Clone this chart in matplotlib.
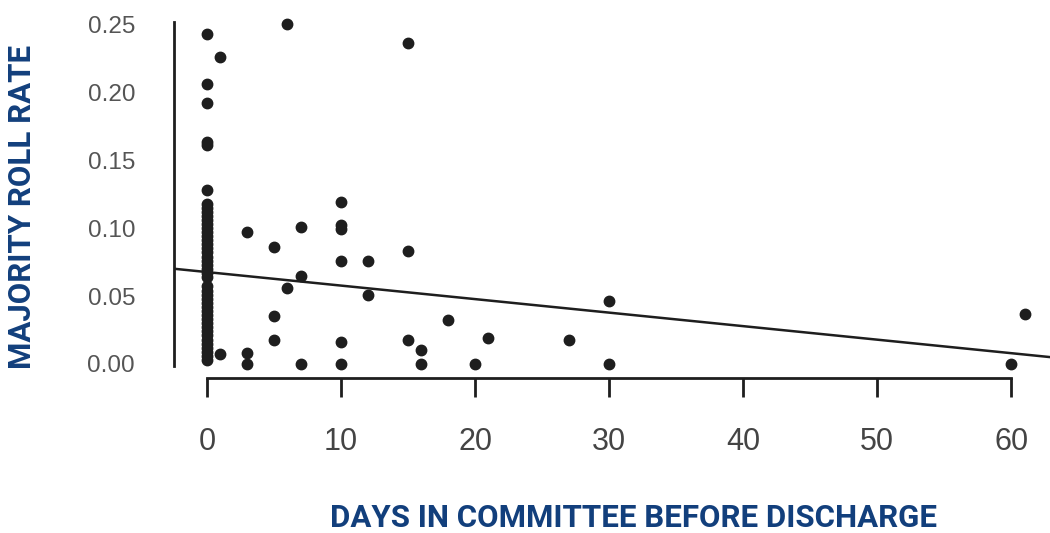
import matplotlib
matplotlib.use("Agg")
from matplotlib import pyplot as plt

# days in committee (x) and majority roll rate (y)
days = ([0] * 44 +
        [1, 1, 3, 3, 3, 5, 5, 5, 6, 6, 7, 7, 7,
         10, 10, 10, 10, 10, 10, 12, 12, 15, 15, 15, 16, 16,
         18, 20, 21, 27, 30, 30, 60, 61])
rates = ([0.243, 0.206, 0.192, 0.163, 0.161, 0.128, 0.118,
          0.115, 0.112, 0.109, 0.106, 0.103, 0.100, 0.097, 0.094, 0.091,
          0.088, 0.085, 0.082, 0.079, 0.076, 0.073, 0.070, 0.067, 0.064,
          0.057, 0.054, 0.051, 0.048, 0.045, 0.042, 0.039, 0.036, 0.033,
          0.030, 0.027, 0.024, 0.021, 0.018, 0.015, 0.012, 0.009, 0.006,
          0.003] +
         [0.226, 0.007, 0.097, 0.008, 0.0, 0.086, 0.035, 0.018, 0.056, 0.250,
          0.101, 0.065, 0.0,
          0.119, 0.102, 0.099, 0.076, 0.016, 0.0, 0.076, 0.051, 0.236, 0.083,
          0.018, 0.010, 0.0,
          0.032, 0.0, 0.019, 0.018, 0.046, 0.0, 0.0, 0.037])

# fitted line
fit_intercept = 0.0676
fit_slope = -0.000994

x_ticks = [0, 10, 20, 30, 40, 50, 60]
y_ticks = [0.00, 0.05, 0.10, 0.15, 0.20, 0.25]

blue = "#123f7c"

fig = plt.figure(figsize=(10.5, 5.33), dpi=100)
ax = fig.add_axes([174 / 1050, 1 - 378 / 533, 876 / 1050, 356 / 533])
ax.set_xlim(-2.46, 62.9)
ax.set_ylim(-0.0103, 0.2515)

ax.plot(days, rates, 'o', color='#1e1e1e', markersize=7.5, clip_on=False, zorder=3)
ax.axline((0, fit_intercept), slope=fit_slope, color='#1e1e1e', lw=1.8)

for s in ['top', 'right']:
    ax.spines[s].set_visible(False)
ax.spines['left'].set_bounds(-0.0015, 0.2515)
ax.spines['bottom'].set_bounds(0, 60)
ax.spines['left'].set_linewidth(2)
ax.spines['bottom'].set_linewidth(2)
ax.spines['left'].set_color('#1e1e1e')
ax.spines['bottom'].set_color('#1e1e1e')

ax.set_xticks(x_ticks)
ax.set_xticklabels([str(t) for t in x_ticks], fontsize=22, color='#444444',
                   family='Liberation Sans')
ax.set_yticks(y_ticks)
ax.set_yticklabels(["%.2f" % t for t in y_ticks], fontsize=17.5, color='#555555',
                   family='Liberation Sans')
ax.tick_params(axis='x', length=14, width=2, color='#1e1e1e', pad=21)
ax.tick_params(axis='y', length=0, pad=28)

fig.text(22 / 1050, 1 - 207 / 533, "MAJORITY ROLL RATE", rotation=90,
         ha='center', va='center', fontsize=22.5, fontweight='bold',
         color=blue, family='Roboto')
fig.text(633 / 1050, 1 - 518 / 533, "DAYS IN COMMITTEE BEFORE DISCHARGE",
         ha='center', va='center', fontsize=22.5, fontweight='bold',
         color=blue, family='Roboto')

plt.savefig("out.png", dpi=100)
